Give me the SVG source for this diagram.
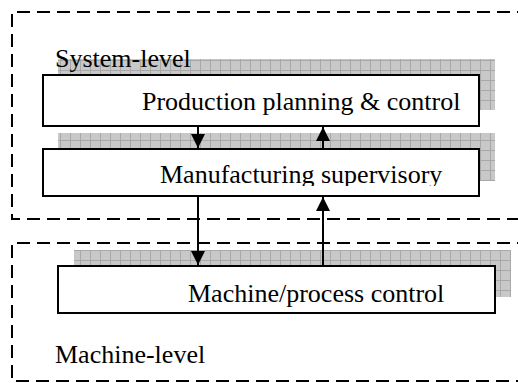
<svg xmlns="http://www.w3.org/2000/svg" width="518" height="383" viewBox="0 0 518 383">
  <style>
    .zone { fill: none; stroke: #000; stroke-width: 2; stroke-dasharray: 13 7; }
    .box { fill: #fff; stroke: #000; stroke-width: 2; }
    .shadow { fill: url(#grid); }
    .label { font-size: 26px; fill: #000; }
    .link { stroke: #000; stroke-width: 2; fill: none; }
  </style>
  <defs>
    <pattern id="grid" patternUnits="userSpaceOnUse" width="10" height="10">
      <rect width="10" height="10" fill="#c8c8c8"/>
      <path d="M0 0.5H10M0.5 0V10" stroke="#a8a8a8" stroke-width="1"/>
    </pattern>
    <marker id="head" viewBox="0 0 14 14" refX="14" refY="7" markerWidth="14" markerHeight="14" markerUnits="userSpaceOnUse" orient="auto">
      <path d="M0 0L14 7L0 14Z" fill="#000"/>
    </marker>
    <clipPath id="cut-mfg">
      <rect x="44" y="150" width="434" height="36"/>
    </clipPath>
  </defs>

  <rect width="518" height="383" fill="#fff"/>

  <!-- drop shadows behind the boxes -->
  <rect class="shadow" x="58" y="59" width="437" height="51"/>
  <rect class="shadow" x="58" y="133" width="437" height="48"/>
  <rect class="shadow" x="74" y="250" width="437" height="47"/>

  <!-- level zones -->
  <g id="zone-system">
    <path class="zone" d="M530 12H12V219H530"/>
    <text class="label" x="55" y="67" font-family="'Liberation Serif', 'Times New Roman', serif">System-level</text>
  </g>
  <g id="zone-machine">
    <path class="zone" d="M530 243H12V381H530"/>
    <text class="label" x="55" y="363" font-family="'Liberation Serif', 'Times New Roman', serif">Machine-level</text>
  </g>

  <g id="node-production">
    <rect class="box" x="43" y="75" width="436" height="51"/>
    <text class="label" x="142" y="110" font-family="'Liberation Serif', 'Times New Roman', serif">Production planning &amp; control</text>
  </g>

  <g id="node-manufacturing">
    <rect class="box" x="43" y="149" width="436" height="47"/>
    <text class="label" x="160" y="183" clip-path="url(#cut-mfg)" font-family="'Liberation Serif', 'Times New Roman', serif">Manufacturing supervisory</text>
  </g>

  <g id="node-machine">
    <rect class="box" x="58" y="266" width="437" height="47"/>
    <text class="label" x="188" y="302" font-family="'Liberation Serif', 'Times New Roman', serif">Machine/process control</text>
  </g>

  <g id="connectors">
    <line class="link" x1="198" y1="126" x2="198" y2="148" marker-end="url(#head)"/>
    <line class="link" x1="323" y1="149" x2="323" y2="127" marker-end="url(#head)"/>
    <line class="link" x1="198" y1="196" x2="198" y2="265" marker-end="url(#head)"/>
    <line class="link" x1="323" y1="266" x2="323" y2="197" marker-end="url(#head)"/>
  </g>
</svg>
